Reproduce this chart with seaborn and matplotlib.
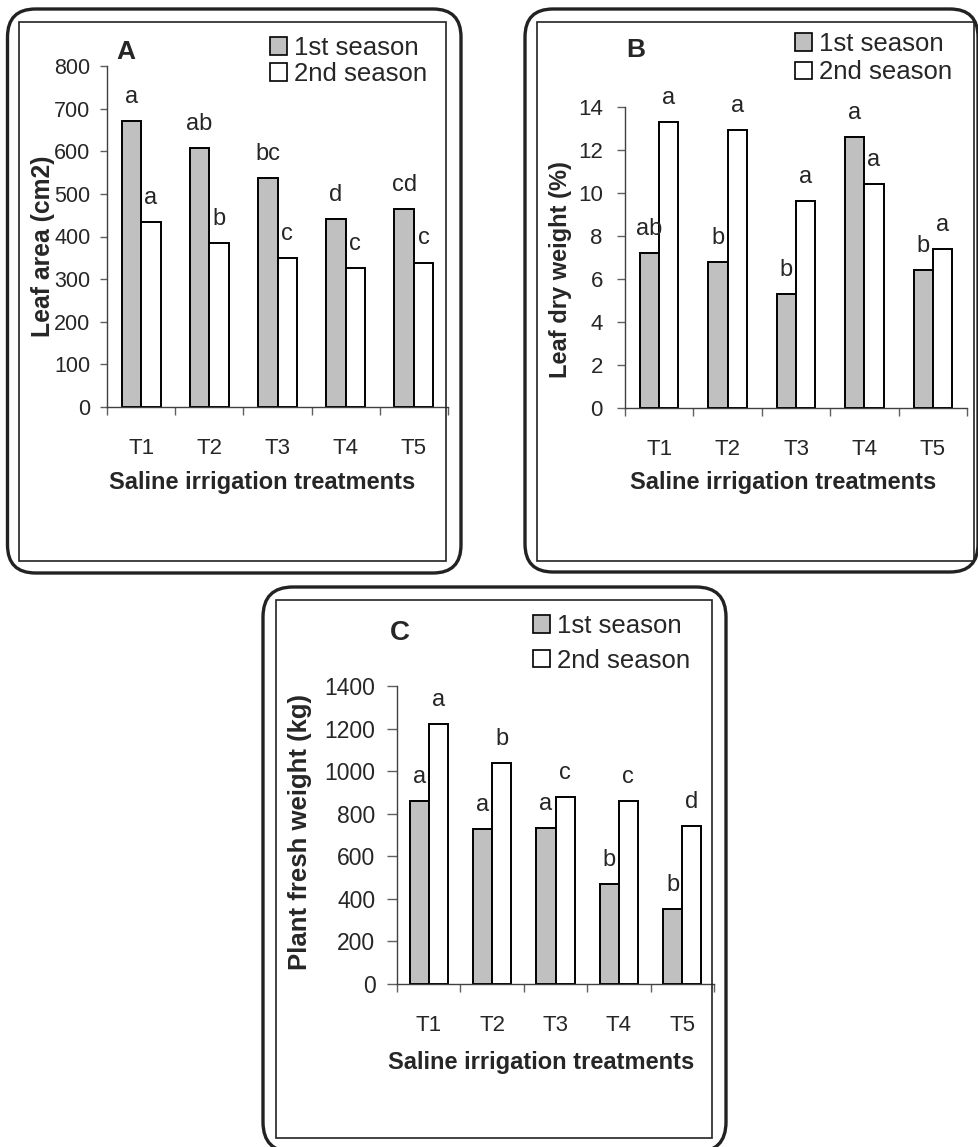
import matplotlib
matplotlib.use('Agg')
import matplotlib.pyplot as plt
import matplotlib.patches as mpatches
import pandas as pd
import seaborn as sns
from matplotlib.ticker import MultipleLocator, FixedLocator

# data
treatments = ['T1', 'T2', 'T3', 'T4', 'T5']
seasons = ['1st season', '2nd season']

leaf_area_s1 = [672, 608, 538, 441, 464]
leaf_area_s2 = [433, 385, 349, 326, 339]
leaf_area_let1 = ['a', 'ab', 'bc', 'd', 'cd']
leaf_area_let2 = ['a', 'b', 'c', 'c', 'c']

dry_weight_s1 = [7.2, 6.8, 5.3, 12.6, 6.4]
dry_weight_s2 = [13.3, 12.9, 9.6, 10.4, 7.4]
dry_weight_let1 = ['ab', 'b', 'b', 'a', 'b']
dry_weight_let2 = ['a', 'a', 'a', 'a', 'a']

fresh_weight_s1 = [860, 727, 734, 468, 354]
fresh_weight_s2 = [1220, 1040, 877, 860, 744]
fresh_weight_let1 = ['a', 'a', 'a', 'b', 'b']
fresh_weight_let2 = ['a', 'b', 'c', 'c', 'd']

palette = {'1st season': '#c0c0c0', '2nd season': 'white'}

sns.set_style('ticks')
plt.rcParams['font.family'] = ['Liberation Sans', 'DejaVu Sans']

W, H = 979, 1147
fig = plt.figure(figsize=(W / 100, H / 100), dpi=100)


def fx(x):
    return x / W


def fy(y):
    return 1 - y / H


def frame(x0, y0, x1, y1, lw, r=0):
    # boxes drawn in inches so the corners stay round
    if r:
        p = mpatches.FancyBboxPatch((x0 / 100, (H - y1) / 100), (x1 - x0) / 100, (y1 - y0) / 100,
                                    boxstyle=f'round,pad=0,rounding_size={r / 100}',
                                    transform=fig.dpi_scale_trans, fill=False, lw=lw, ec='#222222')
    else:
        p = mpatches.Rectangle((x0 / 100, (H - y1) / 100), (x1 - x0) / 100, (y1 - y0) / 100,
                               transform=fig.dpi_scale_trans, fill=False, lw=lw, ec='#222222')
    fig.add_artist(p)


def panel(box, s1, s2, let1, let2, ymax, step, width, ylabel, letter, letter_xy,
          ylabel_xy, xlabel_xy, legend_xy, spacing, ytick_len, ytick_pad, ytick_size,
          ylabel_size, letter_size):
    l, t, r, b = box
    ax = fig.add_axes([fx(l), fy(b), (r - l) / W, (b - t) / H])
    df = pd.DataFrame({
        'treatment': treatments * 2,
        'season': [seasons[0]] * 5 + [seasons[1]] * 5,
        'value': s1 + s2,
    })
    sns.barplot(data=df, x='treatment', y='value', hue='season', palette=palette,
                saturation=1, edgecolor='black', linewidth=1.4, width=width,
                legend=False, ax=ax)
    for cont, labs in zip(ax.containers, [let1, let2]):
        for bar, txt in zip(cont, labs):
            ax.annotate(txt, (bar.get_x() + bar.get_width() / 2, bar.get_height()),
                        xytext=(0, 13), textcoords='offset points',
                        ha='center', va='baseline', fontsize=17)
    sns.despine(ax=ax)
    for s in ['left', 'bottom']:
        ax.spines[s].set_color('#404040')
        ax.spines[s].set_linewidth(1.0)
    ax.set_xlim(-0.5, 4.5)
    ax.set_ylim(0, ymax)
    ax.yaxis.set_major_locator(MultipleLocator(step))
    ax.xaxis.set_minor_locator(FixedLocator([i - 0.5 for i in range(6)]))
    ax.tick_params(axis='x', which='major', length=0, pad=22, labelsize=16)
    ax.tick_params(axis='x', which='minor', length=6, width=1, color='#606060')
    ax.tick_params(axis='y', length=ytick_len, width=1, color='#606060',
                   labelsize=ytick_size, pad=ytick_pad)
    ax.set_xlabel('')
    ax.set_ylabel('')

    handles = [mpatches.Patch(facecolor=palette[s], edgecolor='black', lw=1.2, label=s)
               for s in seasons]
    ax.legend(handles=handles, loc='upper left',
              bbox_to_anchor=(fx(legend_xy[0]), fy(legend_xy[1])),
              bbox_transform=fig.transFigure, frameon=False, fontsize=18.5,
              handlelength=0.65, handleheight=0.65, handletextpad=0.3,
              borderpad=0, borderaxespad=0, labelspacing=spacing)

    fig.text(fx(letter_xy[0]), fy(letter_xy[1]), letter, fontsize=letter_size,
             fontweight='bold', ha='center', va='center')
    fig.text(fx(ylabel_xy[0]), fy(ylabel_xy[1]), ylabel, fontsize=ylabel_size,
             fontweight='bold', rotation=90, ha='center', va='center')
    fig.text(fx(xlabel_xy[0]), fy(xlabel_xy[1]), 'Saline irrigation treatments',
             fontsize=17, fontweight='bold', ha='center', va='center')
    return ax


# panel A
frame(7.5, 9, 461, 573, 2.4, 28)
frame(19, 22, 446, 561, 1.2)
panel((107, 66, 448, 407), leaf_area_s1, leaf_area_s2, leaf_area_let1, leaf_area_let2,
      800, 100, 0.57, 'Leaf area (cm2)', 'A', (126, 52), (43.5, 246), (262, 483),
      (270, 36), 0.08, 5, 7, 15.5, 17.8, 19)

# panel B
frame(525, 9, 978, 572, 2.4, 28)
frame(537, 22, 974, 561, 1.2)
panel((625, 106.7, 967, 408.3), dry_weight_s1, dry_weight_s2, dry_weight_let1,
      dry_weight_let2, 14, 2, 0.56, 'Leaf dry weight (%)', 'B', (636, 50), (561, 270),
      (783, 483), (795, 32), 0.17, 6, 10, 16, 17, 19)

# panel C
frame(263, 587, 726, 1152, 2.4, 30)
frame(276, 600, 712, 1138, 1.2)
panel((397, 686, 714, 984), fresh_weight_s1, fresh_weight_s2, fresh_weight_let1,
      fresh_weight_let2, 1400, 200, 0.6, 'Plant fresh weight (kg)', 'C', (400, 633),
      (300, 832), (541, 1062), (533, 614), 0.42, 7, 8.5, 16.5, 18.5, 20)

fig.savefig('out.png', dpi=100)
